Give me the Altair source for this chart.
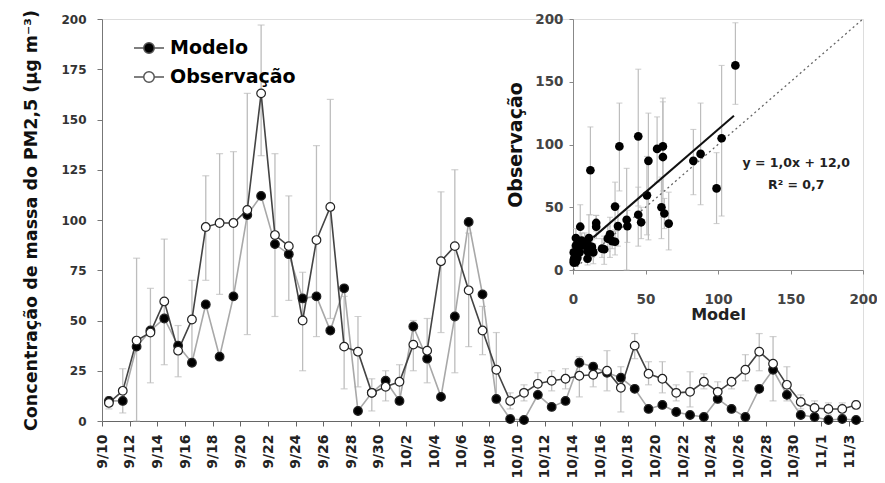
import json
import altair as alt
import pandas as pd

# ---------------- data ----------------
dates = ["9/10", "9/11", "9/12", "9/13", "9/14", "9/15", "9/16", "9/17", "9/18", "9/19",
         "9/20", "9/21", "9/22", "9/23", "9/24", "9/25", "9/26", "9/27", "9/28", "9/29",
         "9/30", "10/1", "10/2", "10/3", "10/4", "10/5", "10/6", "10/7", "10/8", "10/9",
         "10/10", "10/11", "10/12", "10/13", "10/14", "10/15", "10/16", "10/17", "10/18", "10/19",
         "10/20", "10/21", "10/22", "10/23", "10/24", "10/25", "10/26", "10/27", "10/28", "10/29",
         "10/30", "10/31", "11/1", "11/2", "11/3"]

modelo = [10, 10, 37, 45, 51, 37.5, 29, 58, 32, 62,
          102.5, 112, 88, 83, 61, 62, 45, 66, 5, 14,
          20, 10, 47, 31, 12, 52, 99, 63, 11, 1,
          0.5, 13, 7, 10, 29, 27, 24, 21.5, 16, 6,
          8, 4.5, 3, 2, 11, 6, 2, 16, 25.5, 13,
          3, 2, 0.5, 1, 0.5]

observacao = [9, 15, 40, 44, 59.5, 35, 50.5, 96.5, 98.5, 98.5,
              105, 163, 92.5, 87, 50, 90, 106.5, 37, 34.5, 14,
              17, 19.5, 38, 35, 79.5, 87, 65, 45, 25.5, 10,
              14, 18.5, 20, 21, 22.5, 23, 25, 16.5, 37.5, 23.5,
              21, 14, 14.5, 19.5, 14.5, 19.5, 25.5, 34.5, 28.5, 18,
              9.5, 6.5, 6, 6, 8]

obs_lo = [6, 4, 0, 19, 28, 22, 31, 70, 63, 63,
          43, 132, 52, 60, 25, 42, 51, 16, 17, 5,
          10, 12, 25, 19, 44, 24, 37, 33, 9, 6,
          10, 14, 15, 16, 12, 17, 15, 4.5, 31, 18,
          14, 10, 7, 16, 10, 16, 20, 25, 10, 10,
          6, 3, 3, 3, 6]

obs_hi = [12, 26, 81, 66, 90.5, 47.5, 70, 122, 133, 134,
          163, 197, 133, 112, 74, 137, 160, 62, 52, 21,
          25, 28, 50, 51, 114, 125, 93.5, 57, 44, 14,
          18, 24, 25, 26, 32, 29, 35, 27, 43.5, 29.5,
          29.5, 18, 24.5, 23.5, 19.5, 20.5, 33, 43.5, 42, 27,
          13, 10, 9, 9, 10]

series_names = ["Modelo", "Observação"]
trend_slope = 1.0
trend_intercept = 12.0
trend_x = [14, 111]
one_to_one = [0, 200]
eq_labels = ["y = 1,0x + 12,0", "R² = 0,7"]
eq_x = [154, 154]
eq_y = [85, 68]

y_title = "Concentração de massa do PM2,5 (µg m⁻³)"

# ---------------- tables ----------------
n = len(dates)
idx = list(range(n))
wide = pd.DataFrame({"i": idx, "date": dates, "modelo": modelo, "obs": observacao,
                     "lo": obs_lo, "hi": obs_hi})
long = pd.DataFrame({
    "i": idx + idx,
    "value": modelo + observacao,
    "series": [series_names[0]] * n + [series_names[1]] * n,
})
trend = pd.DataFrame({"x": trend_x, "y": [trend_slope * v + trend_intercept for v in trend_x]})
diag = pd.DataFrame({"x": one_to_one, "y": one_to_one})
eq = pd.DataFrame({"x": eq_x, "y": eq_y, "t": eq_labels})

FONT = "DejaVu Sans"
ERR = "#bdbdbd"
W, H = 761, 402

# ---------------- main chart ----------------
xs = alt.Scale(domain=[-0.5, n - 0.5], nice=False, zero=False)
ys = alt.Scale(domain=[0, 200], nice=False)
label_expr = json.dumps(dates) + "[round(datum.value + 0.5)]"
x_axis = alt.Axis(values=[k - 0.5 for k in range(0, n, 2)], labelExpr=label_expr,
                  labelAngle=270, title=None, grid=False, tickSize=5,
                  labelFontSize=14, labelFont=FONT, labelFontWeight="bold",
                  labelColor="#222", domainColor="#666", tickColor="#666",
                  labelPadding=8, labelFlush=False, labelOverlap=False, labelBound=False)
y_axis = alt.Axis(values=list(range(0, 201, 25)), title=y_title, grid=False,
                  tickSize=5, labelFontSize=12, labelFont=FONT, labelFontWeight="bold",
                  labelColor="#333", labelPadding=11, labelFlush=False, labelOverlap=False,
                  domainColor="#777", tickColor="#777",
                  titleFont=FONT, titleFontSize=17.5, titleFontWeight="bold",
                  titleColor="#111", titlePadding=20)

X = alt.X("i:Q", scale=xs, axis=x_axis)

base = alt.Chart(wide)
err_rule = base.mark_rule(color=ERR, strokeWidth=1.3).encode(
    x=X, y=alt.Y("lo:Q", scale=ys, axis=y_axis), y2="hi:Q")
cap_hi = base.mark_tick(color=ERR, orient="horizontal", size=7, thickness=1.2).encode(
    x=X, y=alt.Y("hi:Q", scale=ys, axis=y_axis))
cap_lo = base.mark_tick(color=ERR, orient="horizontal", size=7, thickness=1.2).encode(
    x=X, y=alt.Y("lo:Q", scale=ys, axis=y_axis))

line_model = base.mark_line(strokeWidth=1.6, color="#a8a8a8").encode(
    x=X, y=alt.Y("modelo:Q", scale=ys, axis=y_axis))
line_obs = base.mark_line(strokeWidth=1.6, color="#444444").encode(
    x=X, y=alt.Y("obs:Q", scale=ys, axis=y_axis))

legend_path = ("M-1,0L-0.35,0M0.35,0L1,0M-0.35,0A0.35,0.35 0 1,0 0.35,0"
               "A0.35,0.35 0 1,0 -0.35,0Z")
points = alt.Chart(long).mark_point(shape="circle", filled=True, size=75,
                                    stroke="#222", strokeWidth=1.2, opacity=1).encode(
    x=X,
    y=alt.Y("value:Q", scale=ys, axis=y_axis),
    fill=alt.Fill("series:N", scale=alt.Scale(domain=series_names, range=["#000000", "#ffffff"]),
                  legend=alt.Legend(title=None, orient="none", legendX=31, legendY=13,
                                    padding=0, rowPadding=3, symbolType=legend_path,
                                    symbolSize=900, symbolStrokeColor="#555",
                                    symbolStrokeWidth=1.5, labelFont=FONT,
                                    labelFontSize=19, labelFontWeight="bold",
                                    labelColor="#000", labelOffset=5)))

main = alt.layer(err_rule, cap_hi, cap_lo, line_model, line_obs, points)

# ---------------- inset scatter ----------------
ixs = alt.Scale(domain=[0, 200], range=[471, W], nice=False)
iys = alt.Scale(domain=[0, 200], range=[251, 0], nice=False)
ix_axis = alt.Axis(orient="bottom", offset=-(H - 251), values=[0, 50, 100, 150, 200],
                   title="Model", grid=False, tickSize=4, labelFontSize=13.5, labelFont=FONT,
                   labelFontWeight="bold", labelColor="#444", labelPadding=18,
                   labelFlush=False, domainColor="#888", tickColor="#888",
                   titleFont=FONT, titleFontSize=16, titleFontWeight="bold",
                   titleColor="#222", titlePadding=1)
iy_axis = alt.Axis(orient="left", offset=-471, values=[0, 50, 100, 150, 200],
                   title="Observação", grid=False, tickSize=4, labelFontSize=13.5,
                   labelFont=FONT, labelFontWeight="bold", labelColor="#444",
                   labelPadding=6, labelFlush=False, domainColor="#888", tickColor="#888",
                   titleFont=FONT, titleFontSize=19, titleFontWeight="bold",
                   titleColor="#111", titlePadding=9)

IX = alt.X("modelo:Q", scale=ixs, axis=ix_axis)
ibase = alt.Chart(wide)
i_err = ibase.mark_rule(color=ERR, strokeWidth=1.2).encode(
    x=IX, y=alt.Y("lo:Q", scale=iys, axis=iy_axis), y2="hi:Q")
i_cap_hi = ibase.mark_tick(color=ERR, orient="horizontal", size=6, thickness=1.1).encode(
    x=IX, y=alt.Y("hi:Q", scale=iys, axis=iy_axis))
i_cap_lo = ibase.mark_tick(color=ERR, orient="horizontal", size=6, thickness=1.1).encode(
    x=IX, y=alt.Y("lo:Q", scale=iys, axis=iy_axis))
i_diag = alt.Chart(diag).mark_line(color="#666", strokeWidth=1.3, strokeDash=[2, 3]).encode(
    x=alt.X("x:Q", scale=ixs, axis=ix_axis), y=alt.Y("y:Q", scale=iys, axis=iy_axis))
i_pts = ibase.mark_circle(color="#000", size=75, opacity=1).encode(
    x=IX, y=alt.Y("obs:Q", scale=iys, axis=iy_axis))
i_trend = alt.Chart(trend).mark_line(color="#111", strokeWidth=2).encode(
    x=alt.X("x:Q", scale=ixs, axis=ix_axis), y=alt.Y("y:Q", scale=iys, axis=iy_axis))
i_text = alt.Chart(eq).mark_text(font=FONT, fontSize=12.5, fontWeight="bold", color="#222",
                                 align="center", baseline="middle").encode(
    x=alt.X("x:Q", scale=ixs, axis=ix_axis), y=alt.Y("y:Q", scale=iys, axis=iy_axis),
    text="t:N")

inset = alt.layer(i_err, i_cap_hi, i_cap_lo, i_diag, i_pts, i_trend, i_text)

chart = alt.layer(main, inset).resolve_scale(x="independent", y="independent").properties(
    width=W, height=H,
    autosize=alt.AutoSizeParams(type="none"),
    padding={"left": 94, "top": 11, "right": 14, "bottom": 60},
).configure_view(stroke="#999", strokeWidth=1).configure(font=FONT)

chart.save("out.html", embed_options={"renderer": "svg", "actions": False})
